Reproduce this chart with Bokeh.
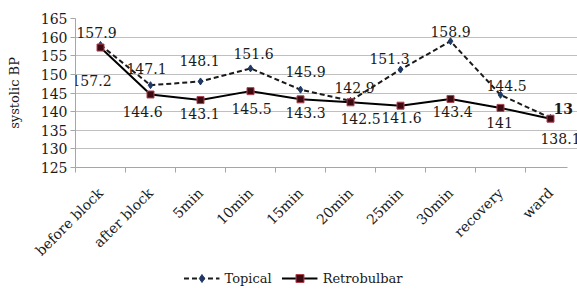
from math import pi
from bokeh.plotting import figure
from bokeh.layouts import column
from bokeh.models import (ColumnDataSource, Range1d, FixedTicker, LabelSet, Legend, LegendItem)
from bokeh.core.properties import value
from bokeh.embed import file_html
from bokeh.resources import INLINE

categories = ["before block", "after block", "5min", "10min", "15min",
              "20min", "25min", "30min", "recovery", "ward"]
topical = [157.9, 147.1, 148.1, 151.6, 145.9, 142.9, 151.3, 158.9, 144.5, 138.3]
retrobulbar = [157.2, 144.6, 143.1, 145.5, 143.3, 142.5, 141.6, 143.4, 141.0, 138.1]
# the last Topical label is cut to "13" in the source chart
topical_labels = ["157.9", "147.1", "148.1", "151.6", "145.9", "142.9", "151.3", "158.9", "144.5", "13"]
retro_labels = ["157.2", "144.6", "143.1", "145.5", "143.3", "142.5", "141.6", "143.4", "141", "138.1"]
y_ticks = [125, 130, 135, 140, 145, 150, 155, 160, 165]

# label nudges in screen pixels (dx right, dy down)
top_dx = [-4, -4, -1, 3, 5, 4, -11, 0, 6]
top_dy = [-12, -17, -21, -15, -18, -13, -11, -10, -9]
ret_dx = [-9, -8, -1, 1, 5, 10, 1, 2, -1, 10]
ret_dy = [33, 17, 13, 17, 13, 16, 12, 13, 15, 20]

FONT = "DejaVu Serif"
TXT = "#1a1a1a"
N = len(categories)
xs = [i + 0.5 for i in range(N)]
X_END = 9.84  # plotted area ends a little before the last category boundary

p = figure(frame_width=502, frame_height=149, output_backend="svg", toolbar_location=None,
           x_range=Range1d(0, 10.04), y_range=Range1d(125, 165),
           min_border_left=75, min_border_right=0, min_border_top=18,
           min_border_bottom=0)
p.outline_line_color = None

# axes
p.xaxis.ticker = FixedTicker(ticks=xs, minor_ticks=list(range(0, N)))
p.xaxis.bounds = (0, X_END)
p.xaxis.major_label_overrides = {x: c for x, c in zip(xs, categories)}
p.xaxis.major_label_orientation = pi / 4
p.xaxis.major_tick_out = 0
p.xaxis.major_tick_in = 0
p.xaxis.minor_tick_out = 5
p.xaxis.minor_tick_in = 0
p.xaxis.minor_tick_line_color = "#a6a6a6"
p.xaxis.axis_line_color = "#a6a6a6"
p.xaxis.major_label_text_font = FONT
p.xaxis.major_label_text_font_size = "14px"
p.xaxis.major_label_text_color = TXT
p.xaxis.major_label_standoff = 18

p.yaxis.ticker = FixedTicker(ticks=y_ticks)
p.yaxis.minor_tick_line_color = None
p.yaxis.major_tick_out = 5
p.yaxis.major_tick_in = 0
p.yaxis.major_tick_line_color = "#a6a6a6"
p.yaxis.axis_line_color = "#a6a6a6"
p.yaxis.major_label_text_font = FONT
p.yaxis.major_label_text_font_size = "14px"
p.yaxis.major_label_text_color = TXT
p.yaxis.major_label_standoff = 3
p.yaxis.axis_label = "systolic BP"
p.yaxis.axis_label_text_font = FONT
p.yaxis.axis_label_text_font_size = "13px"
p.yaxis.axis_label_text_font_style = "normal"
p.yaxis.axis_label_text_color = TXT
p.yaxis.axis_label_standoff = 16

p.xgrid.grid_line_color = None
p.ygrid.grid_line_color = "#bfbfbf"
p.ygrid.grid_line_width = 1
p.ygrid.bounds = (0, X_END)

src = ColumnDataSource(dict(x=xs, t=topical, r=retrobulbar))

T_LINE = dict(line_color="#1a1a1a", line_width=2, line_dash="5 3")
T_MARK = dict(marker="diamond", size=7, fill_color="#1f3864", line_color="#1f3864")
R_LINE = dict(line_color="#000000", line_width=2)
R_MARK = dict(marker="square", size=7, fill_color="#3d0a10", line_color="#b04050", line_width=1)

p.line("x", "t", source=src, **T_LINE)
p.scatter("x", "t", source=src, **T_MARK)
p.line("x", "r", source=src, **R_LINE)
p.scatter("x", "r", source=src, **R_MARK)

# data labels
n = len(top_dx)
tsrc = ColumnDataSource(dict(x=xs[:n], y=topical[:n], txt=topical_labels[:n],
                             dx=top_dx, dy=[-d for d in top_dy]))
p.add_layout(LabelSet(x="x", y="y", text="txt", source=tsrc, x_offset="dx", y_offset="dy",
                      text_align="center", text_baseline="middle",
                      text_font=value(FONT), text_font_size="14px", text_color=TXT))
rsrc = ColumnDataSource(dict(x=xs, y=retrobulbar, txt=retro_labels,
                             dx=ret_dx, dy=[-d for d in ret_dy]))
p.add_layout(LabelSet(x="x", y="y", text="txt", source=rsrc, x_offset="dx", y_offset="dy",
                      text_align="center", text_baseline="middle",
                      text_font=value(FONT), text_font_size="14px", text_color=TXT))
# last Topical label, to the right of its point
p.text(x=[xs[-1]], y=[topical[-1]], text=[topical_labels[-1]], x_offset=3, y_offset=-9,
       text_align="left", text_baseline="middle", text_font=value(FONT),
       text_font_size="14px", text_font_style="bold", text_color=TXT)

# legend strip below the chart (proxy renderers sit outside the visible range)
lg = figure(width=511, height=22, output_backend="svg", toolbar_location=None,
            x_range=Range1d(0, 1), y_range=Range1d(0, 1),
            x_axis_type=None, y_axis_type=None,
            min_border_left=0, min_border_right=0, min_border_top=0, min_border_bottom=0)
lg.outline_line_color = None
lg.xgrid.grid_line_color = None
lg.ygrid.grid_line_color = None
proxy = ColumnDataSource(dict(x=[-5, -4], y=[-5, -4]))
lt = lg.line("x", "y", source=proxy, **T_LINE)
mt = lg.scatter("x", "y", source=proxy, **T_MARK)
lr = lg.line("x", "y", source=proxy, **R_LINE)
mr = lg.scatter("x", "y", source=proxy, **R_MARK)
legend = Legend(items=[LegendItem(label="Topical", renderers=[lt, mt]),
                       LegendItem(label="Retrobulbar", renderers=[lr, mr])],
                orientation="horizontal", location="center",
                label_text_font=FONT, label_text_font_size="13px",
                label_text_color=TXT, border_line_color=None,
                glyph_width=36, spacing=10, padding=2, margin=0,
                background_fill_alpha=0)
lg.add_layout(legend, "center")

open("out.html", "w").write(file_html(column(p, lg), INLINE))
